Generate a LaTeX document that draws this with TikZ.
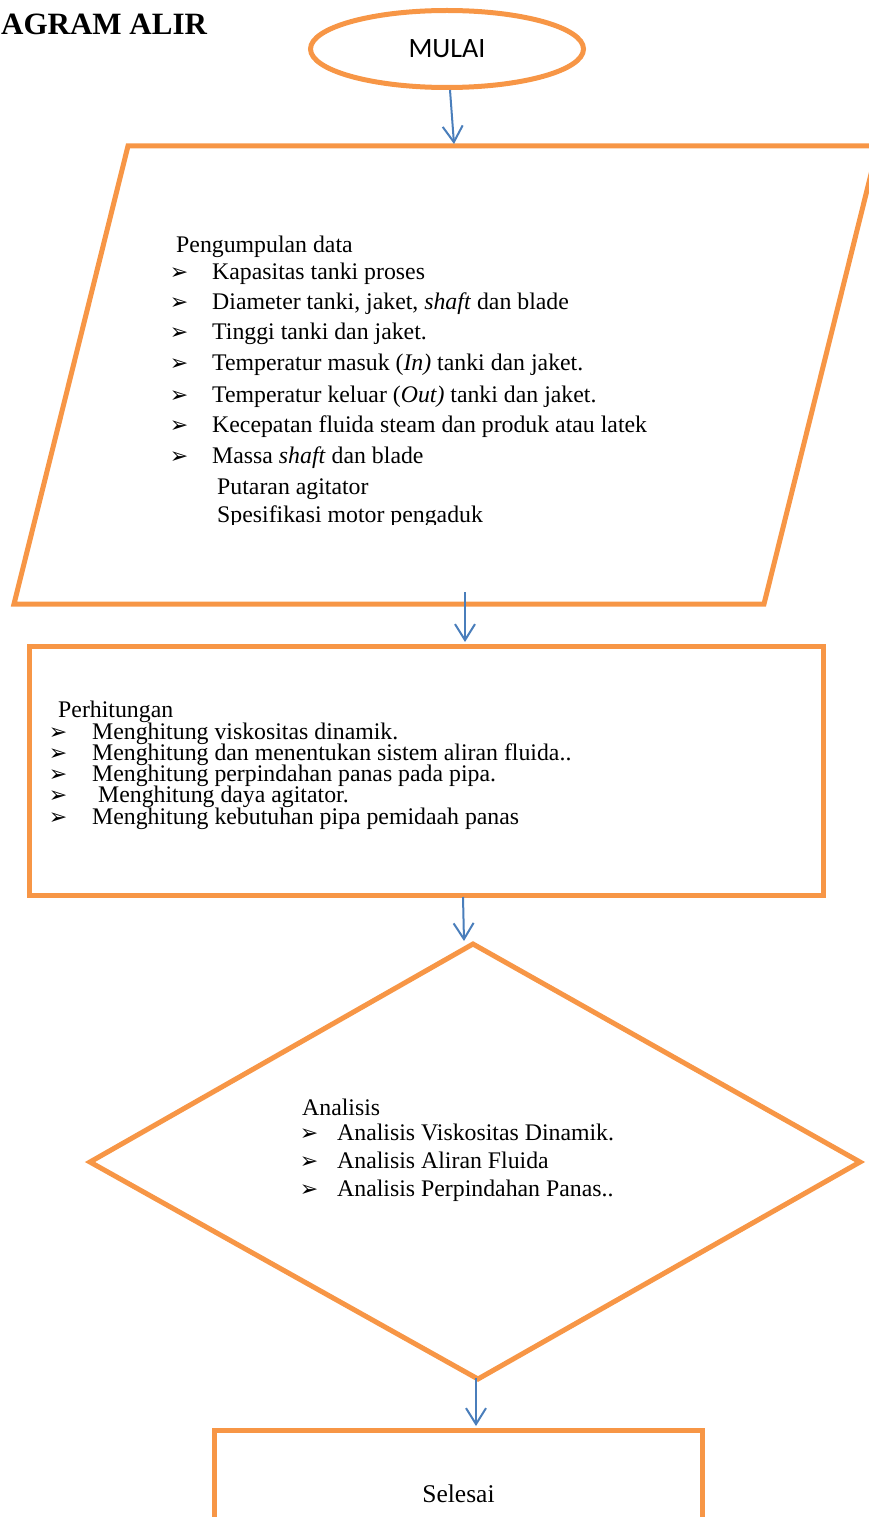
\documentclass[tikz,border=0pt]{standalone}
\usepackage{fontspec}
\setmainfont{Liberation Serif}
\newfontfamily\calfont{Carlito}
\newfontfamily\dingfont{DejaVu Sans}
\usetikzlibrary{shapes.geometric,arrows.meta}
\definecolor{orangeline}{HTML}{F79646}
\definecolor{blueline}{HTML}{4A7EBB}
\newcommand{\itemarrow}{{\dingfont\fontsize{22}{22}\selectfont ➢}}

\begin{document}
\begin{tikzpicture}[x=1pt,y=-1pt,
  box/.style={draw=orangeline, line width=5pt},
  flow/.style={draw=blueline, line width=2pt, -{Straight Barb[length=16pt,width=20pt,line width=2pt]}},
  txt/.style={anchor=base west, inner sep=0pt, font=\fontsize{23.8}{28}\selectfont},
  bul/.style={anchor=base, inner sep=0pt, text height=12pt, text depth=0pt}]
\useasboundingbox (0,0) rectangle (868,1517);

\node[txt, font=\bfseries\fontsize{31}{31}\selectfont] (judul) at (1,35) {AGRAM ALIR};
\node[box, ellipse, minimum width=273pt, minimum height=77pt, font=\calfont\fontsize{28}{28}\selectfont] (mulai) at (447,49) {MULAI};

% input data
\draw[box] (128,146) -- (878,146) -- (764,604) -- (14,604) -- cycle;
\coordinate (datain) at (454,144);
\coordinate (dataout) at (465,592);
\node[txt] (datahead) at (176,252) {Pengumpulan data};
\foreach \y/\t [count=\i] in {279/{Kapasitas tanki proses},
    309/{Diameter tanki, jaket, \textit{shaft} dan blade},
    339/{Tinggi tanki dan jaket.},
    370/{Temperatur masuk (\textit{In)} tanki dan jaket.},
    402/{Temperatur keluar (\textit{Out)} tanki dan jaket.},
    432/{Kecepatan fluida steam dan produk atau latek},
    463/{Massa \textit{shaft} dan blade}} {
  \node[bul] (datbul\i) at (179,\y) {\itemarrow};
  \node[txt] (datitem\i) at (212,\y) {\t};
}
\node[txt] (datputar) at (217,494) {Putaran agitator};
\begin{scope}
  \clip (0,0) rectangle (868,524);
  \node[txt] (datmotor) at (217,522) {Spesifikasi motor pengaduk};
\end{scope}

% perhitungan
\node[box, rectangle, minimum width=794pt, minimum height=249pt] (hitung) at (426.5,771) {};
\coordinate (hitungout) at (463,897);
\node[txt] (hitunghead) at (58,717) {Perhitungan};
\foreach \y/\x/\t [count=\i] in {739/92/{Menghitung viskositas dinamik.},
    760/92/{Menghitung dan menentukan sistem aliran fluida..},
    781/92/{Menghitung perpindahan panas pada pipa.},
    802/98/{Menghitung daya agitator.},
    824/92/{Menghitung kebutuhan pipa pemidaah panas}} {
  \node[bul] (hitbul\i) at (58,\y) {\itemarrow};
  \node[txt] (hititem\i) at (\x,\y) {\t};
}

% analisis
\draw[box] (473,944) -- (860,1162) -- (478,1379) -- (90,1162) -- cycle;
\coordinate (anain) at (464,941);
\coordinate (anaout) at (476,1378);
\node[txt] (anahead) at (302,1115) {Analisis};
\foreach \y/\t [count=\i] in {1140/{Analisis Viskositas Dinamik.},
    1168/{Analisis Aliran Fluida},
    1196/{Analisis Perpindahan Panas..}} {
  \node[bul] (anabul\i) at (309,\y) {\itemarrow};
  \node[txt] (anaitem\i) at (337,\y) {\t};
}

\node[box, rectangle, minimum width=488pt, minimum height=126pt, font=\fontsize{25.5}{26}\selectfont] (selesai) at (458.5,1493.5) {Selesai};

\draw[flow] ([xshift=3pt]mulai.south) -- (datain);
\draw[flow] (dataout) -- ([yshift=2pt]dataout |- hitung.north);
\draw[flow] (hitungout) -- (anain);
\draw[flow] (anaout) -- ([yshift=2pt]anaout |- selesai.north);
\end{tikzpicture}
\end{document}
